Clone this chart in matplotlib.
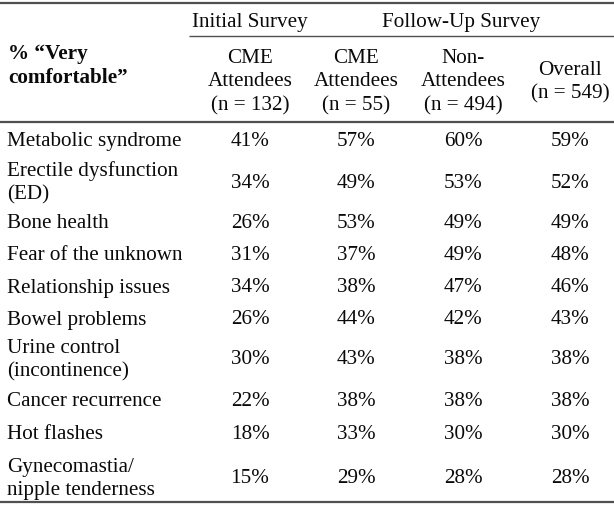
import matplotlib.pyplot as plt

plt.rcParams['font.family'] = ['Liberation Serif', 'DejaVu Serif']

# table content
row_labels = ['Metabolic syndrome', 'Erectile dysfunction\n(ED)', 'Bone health',
              'Fear of the unknown', 'Relationship issues', 'Bowel problems',
              'Urine control\n(incontinence)', 'Cancer recurrence', 'Hot flashes',
              'Gynecomastia/\nnipple tenderness']
col_headers = ['CME\nAttendees\n(n = 132)', 'CME\nAttendees\n(n = 55)',
               'Non-\nAttendees\n(n = 494)', 'Overall\n(n = 549)']
group_headers = ['Initial Survey', 'Follow-Up Survey']
corner = '% \u201cVery\ncomfortable\u201d'

initial_cme = [41, 34, 26, 31, 34, 26, 30, 22, 18, 15]
follow_cme = [57, 49, 53, 37, 38, 44, 43, 38, 33, 29]
follow_non = [60, 53, 49, 49, 47, 42, 38, 38, 30, 28]
follow_all = [59, 52, 49, 48, 46, 43, 38, 38, 30, 28]
columns = [initial_cme, follow_cme, follow_non, follow_all]

# layout in pixels
W, H = 614, 506
col_x = [250, 356, 463, 570]
group_x = [250, 461]
row_y = [141, 183, 224, 256, 288, 320, 360, 402, 435, 479]
fs = 15.2
ink = '#0a0a0a'
rule = '#505050'
ls = 1.32

fig = plt.figure(figsize=(W / 100, H / 100), dpi=100)
ax = fig.add_axes([0, 0, 1, 1])
ax.set_xlim(0, W)
ax.set_ylim(H, 0)
ax.axis('off')

# rules
ax.hlines(4, 0, W, color=rule, lw=1.6)
ax.hlines(37, 189, W, color=rule, lw=1.0)
ax.hlines(123, 0, W, color=rule, lw=1.6)
ax.hlines(503, 0, W, color=rule, lw=1.6)

# header
ax.text(8, 66, corner, fontsize=fs, fontweight='bold', color=ink,
        ha='left', va='center', linespacing=ls)
for gx, g in zip(group_x, group_headers):
    ax.text(gx, 22, g, fontsize=fs, color=ink, ha='center', va='center')
for cx, h in zip(col_x, col_headers):
    ax.text(cx, 82, h, fontsize=fs, color=ink, ha='center', va='center',
            linespacing=ls)

# body
for ry, lab in zip(row_y, row_labels):
    ax.text(7, ry, lab, fontsize=fs, color=ink, ha='left', va='center',
            linespacing=ls)
for cx, vals in zip(col_x, columns):
    for ry, v in zip(row_y, vals):
        ax.text(cx, ry, f'{v}%', fontsize=fs, color=ink, ha='center', va='center')

fig.savefig('out.png', dpi=100)
